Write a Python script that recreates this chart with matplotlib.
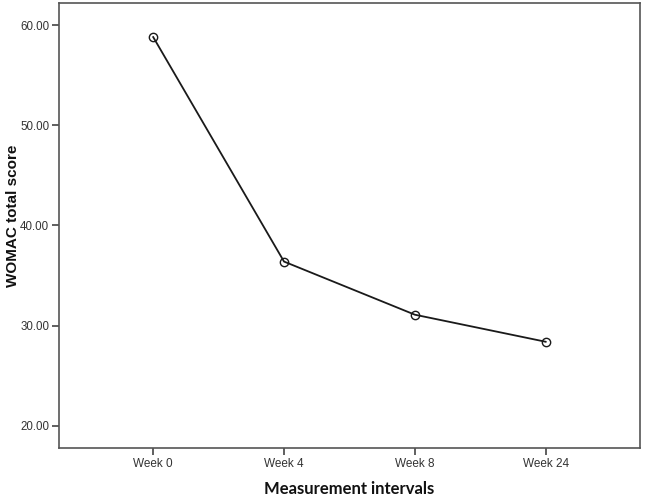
import matplotlib
matplotlib.use('Agg')
import matplotlib.pyplot as plt

plt.rcParams['font.family'] = ['Liberation Sans', 'DejaVu Sans']

# Datos
weeks = ['Week 0', 'Week 4', 'Week 8', 'Week 24']
womac = [58.8, 36.4, 31.1, 28.4]
yticks = [20, 30, 40, 50, 60]

fig = plt.figure(figsize=(6.45, 4.98), dpi=100)
ax = fig.add_axes([0.0915, 0.1004, 0.9005, 0.8926])

x = list(range(len(weeks)))
ax.plot(x, womac, color='#1a1a1a', linewidth=1.3, marker='o', markersize=6,
        markerfacecolor='none', markeredgecolor='#1a1a1a', markeredgewidth=1.0)

ax.set_xlim(-0.72, 3.72)
ax.set_ylim(17.8, 62.15)
ax.set_xticks(x)
ax.set_xticklabels(weeks, fontsize=8.5, color='#333333')
ax.set_yticks(yticks)
ax.set_yticklabels([f'{v:.2f}' for v in yticks], fontsize=8.3, color='#333333')

for s in ax.spines.values():
    s.set_color('#555555')
    s.set_linewidth(1.2)
ax.tick_params(direction='out', length=5, width=1.2, color='#444444', pad=2)

ax.set_ylabel('WOMAC total score', fontweight='bold', fontsize=11, color='#111111')
ax.yaxis.set_label_coords(-0.068, 0.522)
ax.set_xlabel('Measurement intervals', fontfamily=['Lato', 'DejaVu Sans'],
              fontweight='bold', fontsize=12, color='#111111', labelpad=8)

fig.savefig('out.png', dpi=100)
